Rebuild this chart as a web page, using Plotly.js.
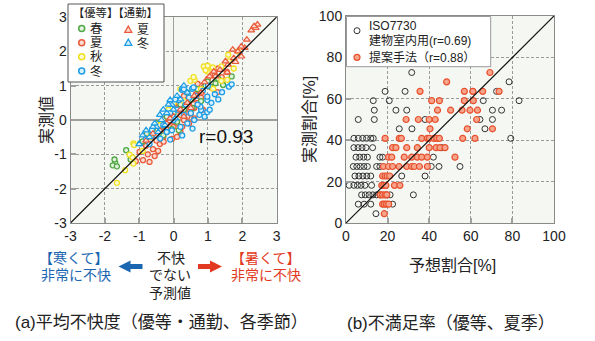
<!DOCTYPE html>
<html><head><meta charset="utf-8">
<script src="https://cdn.plot.ly/plotly-3.0.1.min.js"></script>
<style>html,body{margin:0;padding:0;background:#fff}#chart{width:595px;height:341px}</style>
</head><body><div id="chart"></div>
<script>
// ---------- (a) data: predicted vs measured discomfort ----------
var sprX = [-1.70,-1.77,-1.65,-1.72,-1.38,-1.25,-0.97,-0.90,-0.78,-0.60,-0.40,-0.20,-0.05,0.10,0.30,0.50,0.70,0.93,0.99,1.07,1.22,1.44,1.69,0.20,0.55,-0.30,0.00,0.40,0.80,-0.50,0.15,1.30];
var sprY = [-1.25,-1.32,-1.35,-1.15,-0.88,-1.15,-0.68,-0.62,-0.39,-0.30,-0.20,0.10,-0.27,-0.05,0.30,0.60,0.90,1.00,1.12,0.97,1.07,1.02,1.27,0.45,0.35,-0.45,0.20,0.80,0.55,-0.10,-0.30,1.20];
var sumX = [-0.99,-0.89,-0.70,-0.75,-0.60,-0.55,-0.45,-0.50,-0.40,-0.30,-0.29,-0.20,-0.19,-0.10,-0.29,0.00,0.10,0.10,0.20,0.25,0.30,0.35,0.40,0.45,0.50,0.55,0.60,0.65,0.70,0.75,0.80,0.90,1.00,1.10,1.27,1.20,1.30,1.40,0.15,-0.15,0.05,-0.35,-0.65,-0.80,-1.10,0.20,0.45,0.60,0.85,-0.05,1.55,0.30,0.70];
var sumY = [-0.93,-1.17,-1.22,-1.00,-0.85,-1.05,-0.90,-0.60,-0.70,-0.50,-0.63,-0.35,-0.29,-0.15,0.02,-0.20,-0.10,-0.49,0.15,-0.20,0.00,0.30,0.10,0.45,0.20,0.60,0.35,0.75,0.50,0.90,0.65,1.00,1.20,0.95,0.81,1.30,1.50,1.25,0.50,0.25,0.35,-0.20,-0.50,-0.75,-1.20,-0.35,-0.10,0.05,0.30,-0.55,1.40,0.70,1.05];
var autX = [-1.65,-1.41,-1.28,-1.19,-1.17,-1.17,-1.15,-0.70,-0.40,0.00,0.20,0.49,0.61,0.58,0.88,0.99,0.93,1.14,0.99,1.39,1.39,1.56,1.59,1.61,1.87,1.15,0.30,-0.60,-0.15,0.80,1.75,-0.90];
var autY = [-1.83,-1.46,-1.01,-1.09,-1.27,-0.68,-0.73,-0.50,-0.15,0.50,0.90,1.14,1.17,1.25,1.56,1.41,1.45,1.53,1.58,1.56,1.14,1.17,1.90,1.71,2.00,0.91,0.55,-0.35,0.30,0.90,1.50,-0.90];
var winX = [-0.63,-0.39,-0.10,-0.10,0.15,0.24,0.26,0.30,0.54,0.58,0.98,0.80,0.78,0.98,0.98,1.41,1.61,1.69,1.20,1.10,0.90,0.60,0.50,0.40,0.30,0.20,0.10,0.00,-0.20,-0.30,-0.50,-0.70,-0.80,0.35,0.45,0.65,0.70,0.85,1.00,1.30,0.05,-0.05,0.55,0.25,0.75,1.05];
var winY = [-0.29,-0.54,-0.57,0.20,0.58,0.88,0.92,0.90,0.91,0.95,0.58,0.29,0.39,0.23,0.68,0.81,0.97,1.04,0.75,0.50,0.10,0.00,0.20,-0.10,0.15,-0.20,0.30,0.00,-0.35,-0.15,-0.45,-0.70,-0.55,0.45,0.65,0.70,0.45,0.85,1.00,0.60,0.60,-0.30,-0.25,-0.45,0.15,0.30];
var comSumX = [2.44,2.39,2.34,2.26,2.13,2.07,1.97,1.97,1.87,1.80,1.75,1.72,1.58,1.56,1.51,1.35,1.22,1.17,1.05,0.90,0.80,0.60,0.40,0.20,0.00,-0.20,-0.40,-0.60,-0.80,0.50,0.30,-0.10];
var comSumY = [2.78,2.68,2.73,2.61,2.34,2.10,2.14,1.85,2.00,1.69,1.80,2.05,1.61,1.39,1.71,1.46,1.27,1.41,1.27,1.10,0.80,0.70,0.50,0.30,0.10,-0.10,-0.30,-0.40,-0.60,0.35,0.10,0.05];
var comWinX = [-0.05,-0.10,-0.50,-0.35,-0.60,-0.80,-0.20,0.00,0.10,0.30,-0.45,-0.25,-0.70,-0.15,0.20,-0.55,-0.90,-1.00,0.05,-0.30,0.40,-0.40];
var comWinY = [0.44,0.58,-0.20,0.00,-0.20,-0.30,0.20,0.30,0.70,1.00,-0.35,-0.15,-0.50,0.45,0.60,-0.10,-0.45,-0.70,0.05,0.30,0.80,0.15];
var refLineA = [-3, 3];
var ticksA = [-3,-2,-1,0,1,2,3];

// ---------- (b) data: predicted vs measured dissatisfied [%] ----------
var isoX = [31.6, 78.4, 18.8,28.4,61.0,72.4, 13.1,20.8,66.0,83.2, 13.6,24.0,29.2,70.4,74.8, 5.9,13.6,38.0,64.4,70.4, 25.6,31.7,66.8,
            3.8,5.9,8.0,9.9,11.9,13.1,79.2, 3.8,5.8,7.7,9.6,12.8,46.0, 4.8,6.6,8.5,10.3,16.3,17.6,42.0,
            3.5,5.2,6.9,8.6,10.3,14.7,16.3,41.0,44.7,54.8, 4.3,6.2,8.1,10.0,11.9,26.8,38.0,
            1.5,3.8,5.5,7.2,9.1,12.3, 7.5,9.3,11.1,12.9,14.7,16.3,21.2,32.4, 5.9,8.7,11.9,22.4, 14.4];
var isoY = [72.7, 68.2, 63.6,63.6,63.6,63.6, 59.1,59.1,59.1,59.1, 54.5,54.5,54.5,54.5,54.5, 50.0,50.0,50.0,50.0,50.0, 45.5,45.5,45.5,
            40.9,40.9,40.9,40.9,40.9,40.9,40.9, 36.4,36.4,36.4,36.4,36.4,36.4, 31.8,31.8,31.8,31.8,31.8,31.8,31.8,
            27.3,27.3,27.3,27.3,27.3,27.3,27.3,27.3,27.3,27.3, 22.7,22.7,22.7,22.7,22.7,22.7,22.7,
            18.2,18.2,18.2,18.2,18.2,18.2, 13.6,13.6,13.6,13.6,13.6,13.6,13.6,13.6, 9.1,9.1,9.1,9.1, 4.5];
var propX = [69.2, 48.4, 35.6,56.9,61.0,65.7,73.6, 41.2,44.9,56.9,61.2, 44.0,50.3,55.8,59.6,63.2, 28.9,34.8,40.0,42.9,62.8,
             40.4,58.3,70.4, 18.8,25.6,26.6,36.4,39.1,40.1,42.3,43.6,44.9,56.1,62.0, 22.4,24.0,29.2,34.3,40.0,43.3,45.2,47.6,
             20.4,22.0,28.0,31.6,34.3,36.4,39.1,52.4, 18.0,20.4,22.4,25.5,29.2,31.6,32.8,35.3,39.1,
             17.6,18.8,19.8,21.0, 17.2,18.2,19.2,23.3,25.9, 16.5,17.6,18.8,19.6, 17.6,18.5,19.5,20.5, 18.4];
var propY = [72.7, 68.2, 63.6,63.6,63.6,63.6,63.6, 59.1,59.1,59.1,59.1, 54.5,54.5,54.5,54.5,54.5, 50.0,50.0,50.0,50.0,50.0,
             45.5,45.5,45.5, 40.9,40.9,40.9,40.9,40.9,40.9,40.9,40.9,40.9,40.9,40.9, 36.4,36.4,36.4,36.4,36.4,36.4,36.4,36.4,
             31.8,31.8,31.8,31.8,31.8,31.8,31.8,31.8, 27.3,27.3,27.3,27.3,27.3,27.3,27.3,27.3,27.3,
             22.7,22.7,22.7,22.7, 18.2,18.2,18.2,18.2,18.2, 13.6,13.6,13.6,13.6, 9.1,9.1,9.1,9.1, 4.5];
var refLineB = [0, 100];
var ticksB = [0,20,40,60,80,100];

// ---------- styling ----------
var W = 595, H = 341;
function PX(x){ return x / W; }
function PY(y){ return 1 - y / H; }
var FONT = 'Liberation Sans, Arial, Noto Sans CJK JP, sans-serif';
var C = {green:'#4fa845', red:'#ea5a3a', yellow:'#f0e020', blue:'#1c9de6'};
var F = {green:'#e2f1dd', red:'#fbdcd3', yellow:'#fdf9d2', blue:'#d8effc'};

function circ(x, y, col, fill, name){
  return {type:'scatter', mode:'markers', x:x, y:y, name:name, xaxis:'x', yaxis:'y', showlegend:false,
          marker:{symbol:'circle', size:5, color:fill, line:{color:col, width:1.3}}};
}
function tri(x, y, col, fill, name){
  return {type:'scatter', mode:'markers', x:x, y:y, name:name, xaxis:'x', yaxis:'y', showlegend:false,
          marker:{symbol:'triangle-up', size:6, color:fill, line:{color:col, width:1.2}}};
}

var traces = [
  circ(sumX, sumY, C.red, F.red, '優等 夏'),
  circ(sprX, sprY, C.green, F.green, '優等 春'),
  circ(autX, autY, C.yellow, F.yellow, '優等 秋'),
  circ(winX, winY, C.blue, F.blue, '優等 冬'),
  tri(comSumX, comSumY, C.red, F.red, '通勤 夏'),
  tri(comWinX, comWinY, C.blue, F.blue, '通勤 冬'),
  {type:'scatter', mode:'lines', x:refLineA, y:refLineA, xaxis:'x', yaxis:'y', showlegend:false,
   line:{color:'#111', width:1.2}, hoverinfo:'skip'},
  {type:'scatter', mode:'markers', x:isoX, y:isoY, name:'ISO7730', xaxis:'x2', yaxis:'y2', showlegend:false,
   marker:{symbol:'circle', size:6, color:'rgba(255,255,255,0)', line:{color:'#333', width:1}}},
  {type:'scatter', mode:'markers', x:propX, y:propY, name:'提案手法', xaxis:'x2', yaxis:'y2', showlegend:false,
   marker:{symbol:'circle', size:6, color:'#f6a48c', line:{color:'#e8502c', width:1.2}}},
  {type:'scatter', mode:'lines', x:refLineB, y:refLineB, xaxis:'x2', yaxis:'y2', showlegend:false,
   line:{color:'#111', width:1.2}, hoverinfo:'skip'}
];

function axis(domain, range, ticks, anchor, zero){
  return {domain:domain, range:range, tickvals:ticks, ticktext:ticks.map(String), anchor:anchor,
          showline:true, linecolor:'#8a8a8a', linewidth:1, mirror:true,
          showgrid:true, gridcolor:'#9a9a9a', gridwidth:1, griddash:'3px,2px',
          zeroline:zero, zerolinecolor:'#a0a0a0', zerolinewidth:1.6,
          ticks:'inside', ticklen:5, tickwidth:2, tickcolor:'#a0a0a0',
          tickfont:{family:FONT, size:14, color:'#222'}, fixedrange:true};
}

var layout = {
  width:W, height:H, margin:{l:0, r:0, t:0, b:0}, paper_bgcolor:'#fff', plot_bgcolor:'#f5f7f3',
  font:{family:FONT, color:'#222'}, showlegend:false, hovermode:false,
  xaxis: axis([PX(70.5), PX(276.7)], [-3,3], ticksA, 'y', true),
  yaxis: axis([PY(223), PY(17)], [-3,3], ticksA, 'x', true),
  xaxis2: axis([PX(346), PX(554)], [0,100], ticksB, 'y2', false),
  yaxis2: axis([PY(223), PY(16)], [0,100], ticksB, 'x2', false),
  shapes: [], annotations: []
};

// legend boxes & glyphs (layout decoration)
layout.shapes.push({type:'rect', xref:'paper', yref:'paper', x0:PX(68), x1:PX(164), y0:PY(82), y1:PY(4),
  fillcolor:'#fff', line:{color:'#555', width:1}, layer:'above'});
layout.shapes.push({type:'rect', xref:'paper', yref:'paper', x0:PX(346.5), x1:PX(490.7), y0:PY(66.7), y1:PY(16.5),
  fillcolor:'#fff', line:{color:'#9a9a9a', width:1}, layer:'above'});
function lcirc(x, y, col, fill, w){
  layout.shapes.push({type:'circle', xref:'paper', yref:'paper', xsizemode:'pixel', ysizemode:'pixel',
    xanchor:PX(x), yanchor:PY(y), x0:-3, x1:3, y0:-3, y1:3, fillcolor:fill, line:{color:col, width:w}, layer:'above'});
}
function ltri(x, y, col, fill){
  layout.shapes.push({type:'path', xref:'paper', yref:'paper', xsizemode:'pixel', ysizemode:'pixel',
    xanchor:PX(x), yanchor:PY(y), path:'M-3.5,-2.8 L3.5,-2.8 L0,3.4 Z', fillcolor:fill, line:{color:col, width:1.3}, layer:'above'});
}
lcirc(81.7, 28.5, C.green, F.green, 1.5);
lcirc(81.7, 42.7, C.red, F.red, 1.5);
lcirc(81.7, 56.8, C.yellow, F.yellow, 1.5);
lcirc(81.7, 71, C.blue, F.blue, 1.5);
ltri(128.3, 29.5, C.red, F.red);
ltri(128.3, 42.5, C.blue, F.blue);
lcirc(357, 30.7, '#333', '#fff', 1);
lcirc(357, 57.3, '#e8502c', '#f6a48c', 1.2);

// arrows
function arrow(x, y, dir, col){
  var p = dir < 0 ? 'M-12,0 L0,6 L0,2.5 L12,2.5 L12,-2.5 L0,-2.5 L0,-6 Z'
                  : 'M12,0 L0,6 L0,2.5 L-12,2.5 L-12,-2.5 L0,-2.5 L0,-6 Z';
  layout.shapes.push({type:'path', xref:'paper', yref:'paper', xsizemode:'pixel', ysizemode:'pixel',
    xanchor:PX(x), yanchor:PY(y), path:p, fillcolor:col, line:{width:0}, layer:'above'});
}
arrow(130.5, 266.5, -1, '#1a66b0');
arrow(210, 266.5, 1, '#e23a22');

function ann(text, x, y, size, color, opts){
  var a = {text:text, xref:'paper', yref:'paper', x:PX(x), y:PY(y), showarrow:false,
           xanchor:'center', yanchor:'middle', font:{family:FONT, size:size, color:color||'#222'}};
  if(opts) for(var k in opts) a[k] = opts[k];
  layout.annotations.push(a);
}
ann('【優等】【通勤】', 115, 13, 11.3);
ann('春', 96.5, 28.5, 12.5); ann('夏', 96.5, 42.7, 12.5); ann('秋', 96.5, 56.8, 12.5); ann('冬', 96.5, 71, 12.5);
ann('夏', 143, 30, 12); ann('冬', 143, 43.5, 12);
ann('r=0.93', 225.5, 136.7, 19, '#111');
ann('ISO7730', 367, 25.5, 12, '#222', {xanchor:'left'});
ann('建物室内用(r=0.69)', 367, 41, 12, '#222', {xanchor:'left'});
ann('提案手法（r=0.88）', 367, 57.3, 12, '#222', {xanchor:'left'});
ann('実測値', 46, 120, 16, '#222', {textangle:-90});
ann('実測割合[%]', 309, 120, 16, '#222', {textangle:-90});
ann('予想割合[%]', 452, 265, 16, '#222');
ann('【寒くて】', 74, 258, 14, '#1a66b0');
ann('非常に不快', 76, 275, 14, '#1a66b0');
ann('不快', 171, 258, 14, '#222');
ann('でない', 170, 275, 14, '#222');
ann('予測値', 170, 292.5, 14, '#222');
ann('【暑くて】', 266, 258, 14, '#e23a22');
ann('非常に不快', 266, 275, 14, '#e23a22');
ann('(a)平均不快度（優等・通勤、各季節）', 13, 322, 17, '#222', {xanchor:'left'});
ann('(b)不満足率（優等、夏季）', 345, 323.5, 17, '#222', {xanchor:'left'});

Plotly.newPlot('chart', traces, layout, {staticPlot:true, displayModeBar:false});
</script></body></html>
